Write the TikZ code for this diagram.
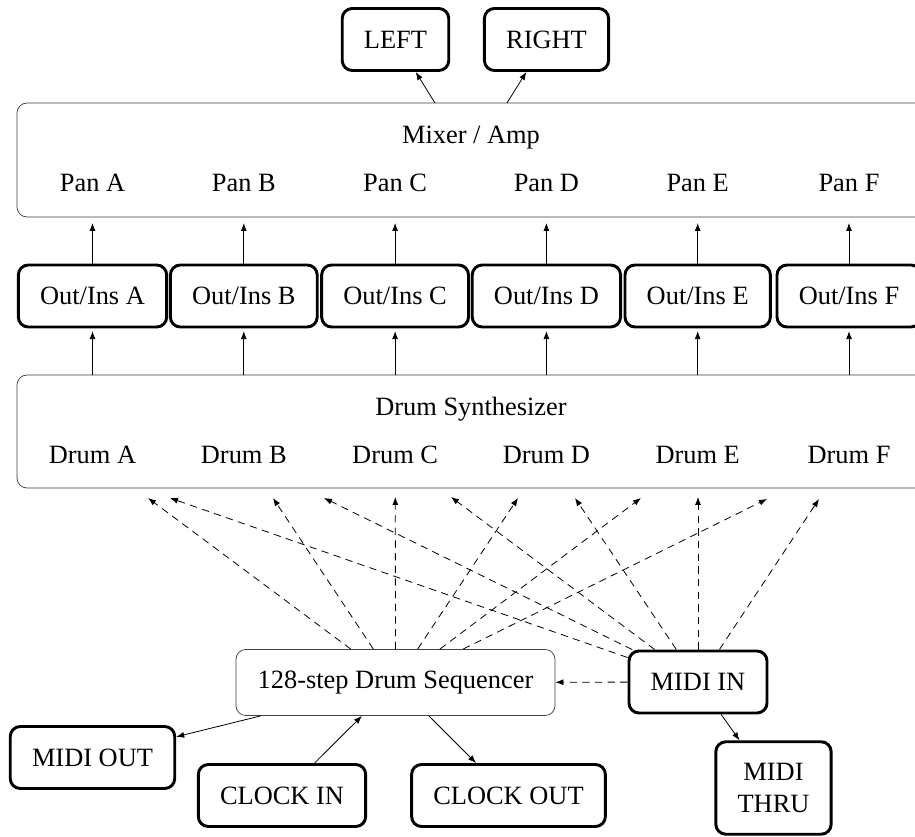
\documentclass[tikz,border=0pt]{standalone}
\usepackage{fontspec}
\setmainfont{Liberation Serif}
\usetikzlibrary{arrows.meta}
\tikzset{
  box/.style={draw, rounded corners=7.5pt, line width=2.2pt, fill=white,
    inner xsep=16.3pt, inner ysep=16.1pt, minimum height=46.5pt, align=center},
  thinbox/.style={draw=black!75, line width=0.55pt, rounded corners=7.5pt, fill=white,
    inner xsep=16.3pt, inner ysep=16.1pt},
  panel/.style={draw=black!75, line width=0.55pt, rounded corners=7.5pt,
    inner sep=0pt, outer sep=0pt},
  lbl/.style={anchor=base, inner sep=0pt},
  conn/.style={line width=0.6pt, -{Latex[length=6pt,width=4.5pt]}},
  dconn/.style={conn, dash pattern=on 5.5pt off 4pt},
}
\begin{document}
\begin{tikzpicture}[x=0.75pt, y=-0.75pt, font=\fontsize{19.8pt}{24pt}\selectfont]
  \path[use as bounding box, fill=white] (0,0) rectangle (915,837);
  \clip (0,0) rectangle (915,837);

  % outputs
  \node[box] (left)  at (395.5,39.5) {LEFT};
  \node[box] (right) at (546.5,39.5) {RIGHT};

  % mixer panel
  \node[panel, minimum width=681pt, minimum height=85.5pt] (mixer) at (471,160) {};
  \node[lbl] (mixtitle) at (471,144) {Mixer / Amp};
  \node[lbl] (panA) at (92.5,192)  {Pan A};
  \node[lbl] (panB) at (243.8,192) {Pan B};
  \node[lbl] (panC) at (395.1,192) {Pan C};
  \node[lbl] (panD) at (546.4,192) {Pan D};
  \node[lbl] (panE) at (697.7,192) {Pan E};
  \node[lbl] (panF) at (849,192)   {Pan F};

  % insert / output stages
  \node[box] (oA) at (92.5,296)  {Out/Ins A};
  \node[box] (oB) at (243.8,296) {Out/Ins B};
  \node[box] (oC) at (395.1,296) {Out/Ins C};
  \node[box] (oD) at (546.4,296) {Out/Ins D};
  \node[box] (oE) at (697.7,296) {Out/Ins E};
  \node[box] (oF) at (849,296)   {Out/Ins F};

  % drum synthesizer panel
  \node[panel, minimum width=681pt, minimum height=84.75pt] (dsynth) at (471,431.5) {};
  \node[lbl] (dtitle) at (471,416) {Drum Synthesizer};
  \node[lbl] (drA) at (92.5,463.5)  {Drum A};
  \node[lbl] (drB) at (243.8,463.5) {Drum B};
  \node[lbl] (drC) at (395.1,463.5) {Drum C};
  \node[lbl] (drD) at (546.4,463.5) {Drum D};
  \node[lbl] (drE) at (697.7,463.5) {Drum E};
  \node[lbl] (drF) at (849,463.5)   {Drum F};

  % sequencer and MIDI / clock ports
  \node[thinbox] (seq) at (395.5,682.5) {128-step Drum Sequencer};
  \node[box] (midiin) at (698,682) {MIDI IN};
  \node[box] (mout)   at (92.5,757.5) {MIDI OUT};
  \node[box] (clkin)  at (282,795.5) {CLOCK IN};
  \node[box] (clkout) at (508.5,795.5) {CLOCK OUT};
  \node[box] (mthru)  at (773.5,788) {MIDI\\THRU};

  % mixer to outputs
  \draw[conn] ([xshift=-27pt]mixer.north) -- (left);
  \draw[conn] ([xshift=27pt]mixer.north) -- (right);

  % drum voices through the insert stages into the mixer
  \foreach \o in {oA,oB,oC,oD,oE,oF}{
    \draw[conn, shorten >=2pt] (\o |- dsynth.north) -- (\o);
    \draw[conn, shorten >=4.5pt] (\o) -- (\o |- mixer.south);
  }

  % trigger ends just below the drum synthesizer
  \coordinate (tSA) at (148,498);
  \coordinate (tSB) at (273,498);
  \coordinate (tSC) at (395.3,497);
  \coordinate (tSD) at (518,498);
  \coordinate (tSE) at (641,498);
  \coordinate (tSF) at (767,499);
  \coordinate (tMA) at (170,498);
  \coordinate (tMB) at (324,498);
  \coordinate (tMC) at (451,497);
  \coordinate (tMD) at (575,498);
  \coordinate (tME) at (698,497);
  \coordinate (tMF) at (819,499);

  \foreach \t in {tSA,tSB,tSC,tSD,tSE,tSF}{
    \draw[dconn] (seq) -- (\t);
  }
  \foreach \t in {tMA,tMB,tMC,tMD,tME,tMF}{
    \draw[dconn] (midiin) -- (\t);
  }

  % MIDI and clock routing
  \draw[dconn] (midiin) -- (seq);
  \draw[conn] (seq) -- (mout);
  \draw[conn] (clkin) -- (seq);
  \draw[conn] (seq) -- (clkout);
  \draw[conn] (midiin) -- (mthru);
\end{tikzpicture}
\end{document}
